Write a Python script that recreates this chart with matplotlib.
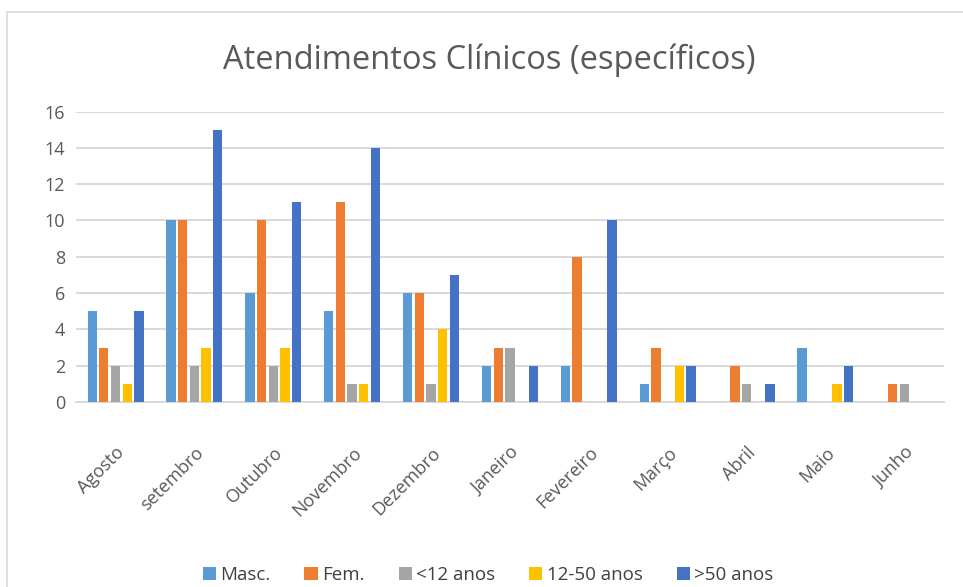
import numpy as np
import matplotlib
matplotlib.use("Agg")
from matplotlib import pyplot as plt
from matplotlib.patches import Rectangle

meses = ["Agosto", "setembro", "Outubro", "Novembro", "Dezembro", "Janeiro",
         "Fevereiro", "Março", "Abril", "Maio", "Junho"]

masc = [5, 10, 6, 5, 6, 2, 2, 1, 0, 3, 0]
fem = [3, 10, 10, 11, 6, 3, 8, 3, 2, 0, 1]
menor12 = [2, 2, 2, 1, 1, 3, 0, 0, 1, 0, 1]
de12a50 = [1, 3, 3, 1, 4, 0, 0, 2, 0, 1, 0]
maior50 = [5, 15, 11, 14, 7, 2, 10, 2, 1, 2, 0]

series = [
    ("Masc.", masc, "#5B9BD5"),
    ("Fem.", fem, "#ED7D31"),
    ("<12 anos", menor12, "#A5A5A5"),
    ("12-50 anos", de12a50, "#FFC000"),
    (">50 anos", maior50, "#4472C4"),
]

plt.rcParams['font.family'] = ['Open Sans', 'DejaVu Sans']

fig = plt.figure(figsize=(9.63, 5.87), dpi=100)
# moldura do grafico
fig.patches.append(Rectangle((0.007, -0.01), 1.0, 0.99, transform=fig.transFigure,
                             fill=False, edgecolor="#D9D9D9", linewidth=1.2))

ax = fig.add_axes([0.079, 0.315, 0.901, 0.495])

x = np.arange(len(meses))
passo = 0.148
largura = 0.118
for i, (nome, vals, cor) in enumerate(series):
    ax.bar(x + (i - 2) * passo, vals, width=largura, color=cor, label=nome, zorder=3)

ax.set_xlim(-0.5, len(meses) - 0.5)
ax.set_ylim(0, 16)
ax.set_yticks(range(0, 17, 2))
ax.yaxis.grid(True, color="#D9D9D9", linewidth=1.4, zorder=0)
for lado in ["top", "right", "left"]:
    ax.spines[lado].set_visible(False)
ax.spines["bottom"].set_color("#D9D9D9")
ax.spines["bottom"].set_linewidth(1.4)
ax.tick_params(axis="both", length=0, colors="#595959", labelsize=13)
ax.tick_params(axis="y", pad=8)
ax.tick_params(axis="x", pad=30)

ax.set_xticks(x)
ax.set_xticklabels(meses, rotation=45, ha="right", va="top", rotation_mode="anchor",
                   color="#595959", fontsize=13)

fig.text(0.508, 0.897, "Atendimentos Clínicos (específicos)", ha="center", va="center",
         fontsize=23.5, color="#595959")

ax.legend(loc="lower center", bbox_to_anchor=(0.475, -0.685), ncol=5, frameon=False,
          fontsize=13.5, handlelength=0.7, handleheight=0.7, handletextpad=0.25,
          columnspacing=1.8, labelcolor="#404040")

fig.savefig("out.png", dpi=100)
